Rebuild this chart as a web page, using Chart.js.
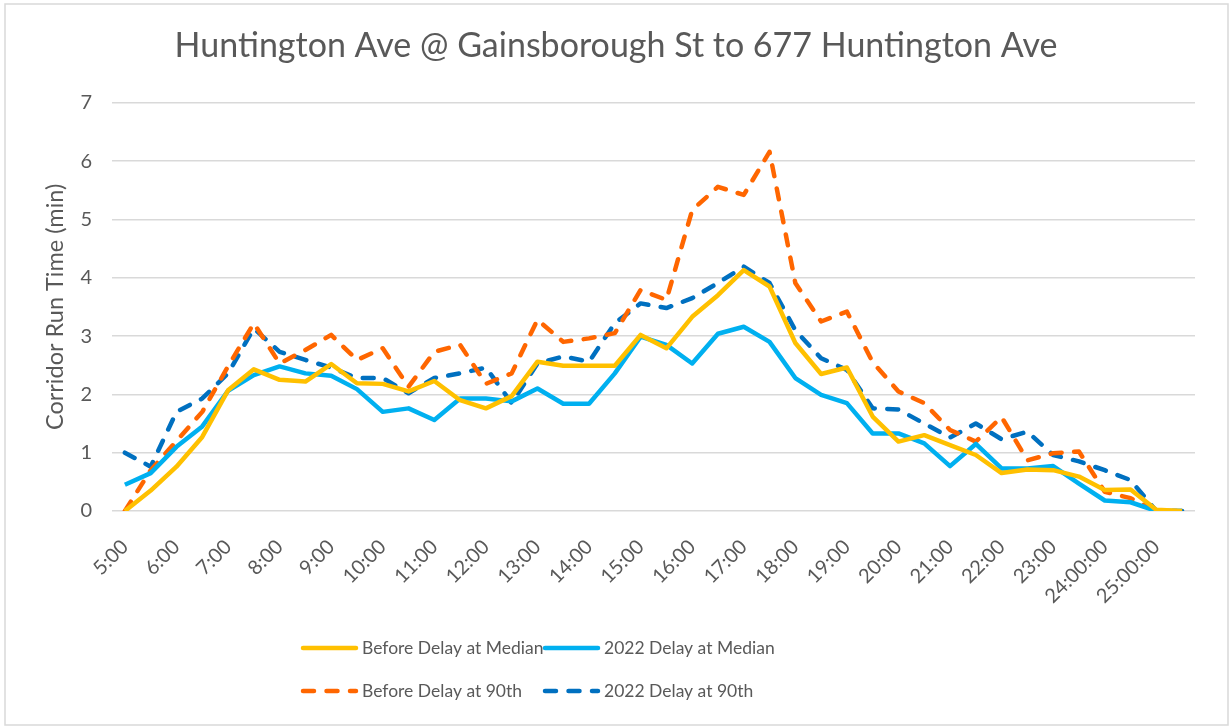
<!DOCTYPE html>
<html>
<head>
<meta charset="utf-8">
<title>Huntington Ave corridor run time</title>
<script src="https://cdn.jsdelivr.net/npm/chart.js@4.4.1/dist/chart.umd.min.js"></script>
<style>
  html, body { margin: 0; padding: 0; background: #ffffff; }
  #wrap { width: 1229px; height: 727px; position: relative; }
</style>
</head>
<body>
<div id="wrap"><canvas id="runTime"></canvas></div>
<script>
// Half-hour bins from 5:00 to 25:30 (service day runs past midnight)
const timeLabels = [
    '5:00', '5:30', '6:00', '6:30', '7:00', '7:30', '8:00', '8:30', '9:00', '9:30',
    '10:00', '10:30', '11:00', '11:30', '12:00', '12:30', '13:00', '13:30', '14:00', '14:30',
    '15:00', '15:30', '16:00', '16:30', '17:00', '17:30', '18:00', '18:30', '19:00', '19:30',
    '20:00', '20:30', '21:00', '21:30', '22:00', '22:30', '23:00', '23:30', '24:00:00', '24:30:00',
    '25:00:00', '25:30:00'
];

// Corridor run time in minutes
const beforeMedian = [
    0, 0.35, 0.76, 1.27, 2.07, 2.43, 2.25, 2.22, 2.52, 2.19,
    2.18, 2.05, 2.23, 1.90, 1.76, 1.97, 2.56, 2.49, 2.49, 2.49,
    3.02, 2.79, 3.33, 3.70, 4.13, 3.85, 2.88, 2.35, 2.46, 1.62,
    1.19, 1.30, 1.13, 0.96, 0.65, 0.71, 0.70, 0.59, 0.36, 0.37,
    0.02, 0
];
const delay2022Median = [
    0.45, 0.65, 1.10, 1.45, 2.06, 2.33, 2.48, 2.36, 2.32, 2.09,
    1.70, 1.76, 1.56, 1.93, 1.93, 1.88, 2.10, 1.84, 1.84, 2.36,
    2.99, 2.85, 2.53, 3.04, 3.16, 2.90, 2.28, 1.99, 1.85, 1.33,
    1.33, 1.16, 0.77, 1.15, 0.73, 0.73, 0.77, 0.47, 0.18, 0.15,
    0, 0
];
const before90th = [
    0, 0.70, 1.20, 1.70, 2.48, 3.22, 2.53, 2.76, 3.02, 2.59,
    2.79, 2.13, 2.73, 2.85, 2.18, 2.36, 3.28, 2.90, 2.96, 3.05,
    3.79, 3.62, 5.16, 5.56, 5.42, 6.16, 3.91, 3.25, 3.42, 2.55,
    2.05, 1.85, 1.39, 1.19, 1.61, 0.87, 0.99, 1.02, 0.33, 0.22,
    0, 0
];
const delay2022At90th = [
    1.00, 0.76, 1.70, 1.93, 2.36, 3.13, 2.73, 2.59, 2.46, 2.28,
    2.28, 2.02, 2.28, 2.36, 2.46, 1.85, 2.53, 2.65, 2.56, 3.22,
    3.56, 3.48, 3.65, 3.91, 4.19, 3.91, 3.10, 2.62, 2.42, 1.76,
    1.74, 1.50, 1.26, 1.50, 1.23, 1.36, 0.96, 0.85, 0.70, 0.53,
    0, 0
];

const yTicks = [0, 1, 2, 3, 4, 5, 6, 7];

const TEXT_GRAY = '#595959';
const GRID_GRAY = '#d9d9d9';
const FONT = "'Lato', 'Open Sans', sans-serif";
const DASH = [11, 12.5];

// White background + thin chart border, like the spreadsheet export
const frame = {
    id: 'frame',
    beforeDraw(chart) {
        const ctx = chart.ctx;
        ctx.save();
        ctx.fillStyle = '#ffffff';
        ctx.fillRect(0, 0, chart.width, chart.height);
        ctx.strokeStyle = GRID_GRAY;
        ctx.lineWidth = 1.5;
        ctx.strokeRect(5, 4, chart.width - 6, chart.height - 6);
        ctx.restore();
    }
};

// Two-column legend under the axis
const gridLegend = {
    id: 'gridLegend',
    afterDraw(chart, args, opts) {
        const ctx = chart.ctx;
        ctx.save();
        ctx.font = opts.font;
        ctx.textBaseline = 'middle';
        ctx.fillStyle = TEXT_GRAY;
        chart.data.datasets.forEach((ds, i) => {
            const x = opts.cols[i % 2];
            const y = opts.rows[Math.floor(i / 2)];
            ctx.beginPath();
            ctx.strokeStyle = ds.borderColor;
            ctx.lineWidth = ds.borderWidth;
            ctx.lineCap = 'round';
            ctx.setLineDash(ds.borderDash || []);
            ctx.moveTo(x + 2, y);
            ctx.lineTo(x + opts.lineLength, y);
            ctx.stroke();
            ctx.setLineDash([]);
            ctx.fillText(ds.label, x + opts.lineLength + 6, y);
        });
        ctx.restore();
    }
};

new Chart(document.getElementById('runTime'), {
    type: 'line',
    data: {
        labels: timeLabels,
        datasets: [
            {
                label: 'Before Delay at Median',
                data: beforeMedian,
                borderColor: '#ffc000',
                borderWidth: 4.5
            },
            {
                label: '2022 Delay at Median',
                data: delay2022Median,
                borderColor: '#00b0f0',
                borderWidth: 4.5
            },
            {
                label: 'Before Delay at 90th',
                data: before90th,
                borderColor: '#ff6600',
                borderWidth: 4.5,
                borderDash: DASH,
                borderCapStyle: 'round'
            },
            {
                label: '2022 Delay at 90th',
                data: delay2022At90th,
                borderColor: '#0070c0',
                borderWidth: 4.5,
                borderDash: DASH,
                borderCapStyle: 'round'
            }
        ]
    },
    options: {
        responsive: true,
        maintainAspectRatio: false,
        animation: false,
        elements: {
            point: { radius: 0, hoverRadius: 0 },
            line: { tension: 0, borderJoinStyle: 'round', fill: false }
        },
        layout: {
            padding: { top: 8, left: 37, right: 34, bottom: 0 }
        },
        plugins: {
            legend: { display: false },
            tooltip: { enabled: false },
            title: {
                display: true,
                text: 'Huntington Ave @ Gainsborough St to 677 Huntington Ave',
                color: TEXT_GRAY,
                font: { family: FONT, size: 34, weight: 'normal' },
                padding: { top: 18, bottom: 36 }
            },
            gridLegend: {
                font: "17.5px " + FONT,
                cols: [301, 543],
                rows: [648, 691],
                lineLength: 55
            }
        },
        scales: {
            x: {
                offset: true,
                grid: { display: false },
                border: { display: false },
                ticks: {
                    autoSkip: false,
                    minRotation: 45,
                    maxRotation: 45,
                    padding: 16,
                    color: TEXT_GRAY,
                    font: { family: FONT, size: 20 },
                    callback: function(value, index) {
                        return index % 2 === 0 ? timeLabels[index] : '';
                    }
                },
                afterFit: function(scale) {
                    scale.height = 216;
                }
            },
            y: {
                min: yTicks[0],
                max: yTicks[yTicks.length - 1],
                afterBuildTicks: function(scale) {
                    scale.ticks = yTicks.map(v => ({ value: v }));
                },
                grid: { color: GRID_GRAY, lineWidth: 1.5, drawTicks: false },
                border: { display: false },
                ticks: {
                    padding: 20,
                    color: TEXT_GRAY,
                    font: { family: FONT, size: 20 }
                },
                title: {
                    display: true,
                    text: 'Corridor Run Time (min)',
                    color: TEXT_GRAY,
                    font: { family: FONT, size: 23.5 },
                    padding: { top: 4, bottom: 0 }
                },
                afterFit: function(scale) {
                    scale.width = 75;
                }
            }
        }
    },
    plugins: [frame, gridLegend]
});
</script>
</body>
</html>
